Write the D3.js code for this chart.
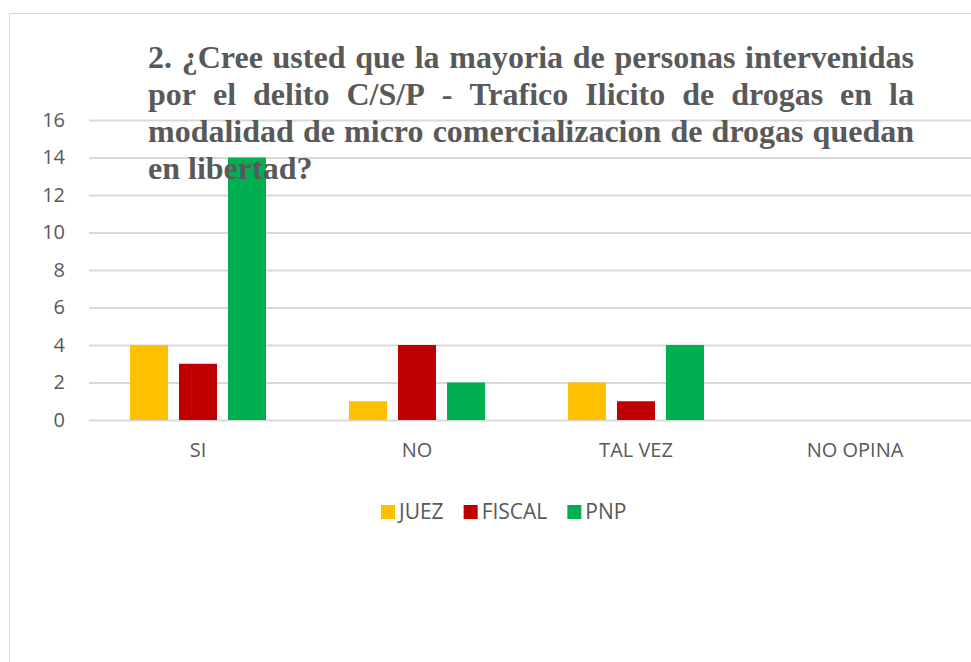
<!DOCTYPE html>
<html>
<head>
<meta charset="utf-8">
<script src="https://cdn.jsdelivr.net/npm/d3@7"></script>
<style>
  body { margin: 0; background: #fff; }
  svg { display: block; }
</style>
</head>
<body>
<div id="chart"></div>
<script>
// data
const categories = ["SI", "NO", "TAL VEZ", "NO OPINA"]
const seriesNames = ["JUEZ", "FISCAL", "PNP"]
const juez = [4, 1, 2, 0]
const fiscal = [3, 4, 1, 0]
const pnp = [14, 2, 4, 0]
const yTicks = [0, 2, 4, 6, 8, 10, 12, 14, 16]
const colors = ["#ffc000", "#c00000", "#00b050"]
const titleLines = [
    "2. ¿Cree usted que la mayoria de personas intervenidas",
    "por el delito C/S/P - Trafico Ilicito de drogas en la",
    "modalidad de micro comercializacion de drogas quedan",
    "en libertad?"
]

const W = 971, H = 662
const textColor = "#595959"
const axisFont = "'Open Sans', Lato, sans-serif"

let svg = d3.select("#chart").append("svg")
    .attr("width", W)
    .attr("height", H)

// chart frame (only left and top edges are visible)
svg.append("path")
    .attr("d", "M9.5," + H + "V13.5H" + W)
    .attr("fill", "none")
    .attr("stroke", "#d9d9d9")
    .attr("stroke-width", 1)

let plot = {left: 88.5, right: 964.5, top: 120, bottom: 420}

let x0 = d3.scaleBand()
    .domain(categories)
    .range([plot.left, plot.right])

let x1 = d3.scaleBand()
    .domain(seriesNames)
    .range([0, 136])
    .paddingInner(0.224)

let y = d3.scaleLinear()
    .domain([0, 16])
    .range([plot.bottom, plot.top])

// gridlines
svg.append("g")
    .selectAll("line")
    .data(yTicks)
    .join("line")
    .attr("x1", 89)
    .attr("x2", W)
    .attr("y1", d => y(d) + 0.5)
    .attr("y2", d => y(d) + 0.5)
    .attr("stroke", "#d9d9d9")
    .attr("stroke-width", 2)

// y axis labels
let yAxis = svg.append("g")
    .attr("transform", "translate(" + 65 + ",0)")
    .call(d3.axisLeft(y).tickValues(yTicks).tickSize(0).tickPadding(0))
yAxis.select(".domain").remove()
yAxis.selectAll("text")
    .attr("fill", textColor)
    .style("font-family", axisFont)
    .style("font-size", "20px")

// bars
let rows = categories.map((c, i) => ({cat: c, vals: [juez[i], fiscal[i], pnp[i]]}))

svg.append("g")
    .selectAll("g")
    .data(rows)
    .join("g")
    .attr("transform", d => "translate(" + (x0(d.cat) + x0.bandwidth() / 2 - 68) + ",0)")
    .selectAll("rect")
    .data(d => d.vals.map((v, j) => ({name: seriesNames[j], v: v, j: j})))
    .join("rect")
    .attr("x", d => x1(d.name))
    .attr("width", x1.bandwidth())
    .attr("y", d => y(d.v))
    .attr("height", d => y(0) - y(d.v))
    .attr("fill", d => colors[d.j])

// category axis
let xAxis = svg.append("g")
    .attr("transform", "translate(0," + 443 + ")")
    .call(d3.axisBottom(x0).tickSize(0).tickPadding(0))
xAxis.select(".domain").remove()
xAxis.selectAll("text")
    .attr("fill", textColor)
    .style("font-family", axisFont)
    .style("font-size", "20px")

// legend
let legend = svg.append("g")
let lx = 381
seriesNames.forEach((name, i) => {
    legend.append("rect")
        .attr("x", lx)
        .attr("y", 505)
        .attr("width", 14)
        .attr("height", 14)
        .attr("fill", colors[i])
    let t = legend.append("text")
        .attr("x", lx + 18)
        .attr("y", 519)
        .attr("fill", textColor)
        .style("font-family", axisFont)
        .style("font-size", "21px")
        .text(name)
    lx += 18 + t.node().getComputedTextLength() + 20
})

// title, justified between left and right edges (sits on top of the bars)
let titleLeft = 148, titleRight = 914
let titleG = svg.append("g")
    .attr("fill", textColor)
    .style("font-family", "'Liberation Serif', 'Times New Roman', serif")
    .style("font-weight", "bold")
    .style("font-size", "32px")

titleLines.forEach((line, i) => {
    let baseline = 68 + i * 37
    let words = line.split(" ")
    let widths = words.map(w => {
        let t = titleG.append("text").text(w)
        let len = t.node().getComputedTextLength()
        t.remove()
        return len
    })
    let gap = 8
    if (i < titleLines.length - 1) {
        gap = (titleRight - titleLeft - d3.sum(widths)) / (words.length - 1)
    }
    let cx = titleLeft
    words.forEach((w, k) => {
        titleG.append("text")
            .attr("x", cx)
            .attr("y", baseline)
            .text(w)
        cx += widths[k] + gap
    })
})
</script>
</body>
</html>
